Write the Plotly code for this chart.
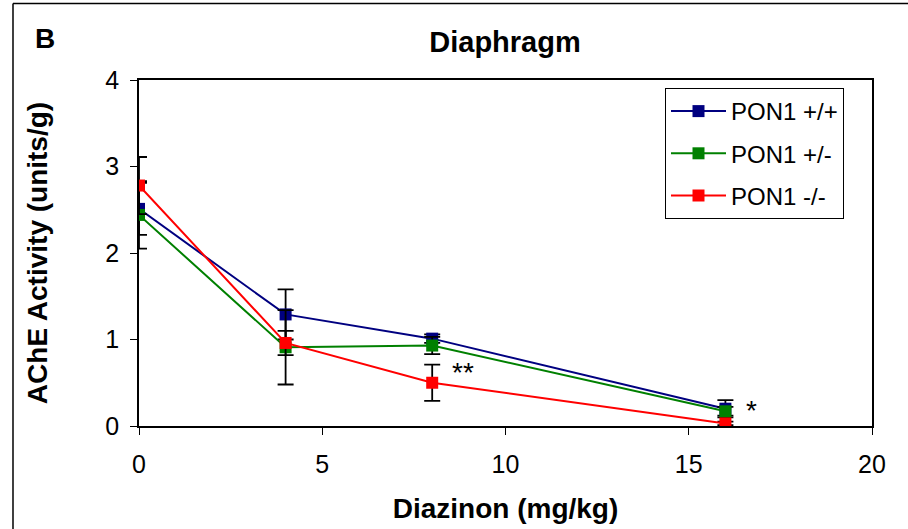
import plotly.graph_objects as go

# Diazinon dose (mg/kg)
dose = [0, 4, 8, 16]

# AChE activity (units/g) and error per genotype
pon_pp = [2.51, 1.29, 1.01, 0.20]
pon_pp_err = [0.30, 0.29, 0.05, 0.10]
pon_pm = [2.44, 0.91, 0.93, 0.17]
pon_pm_err = [0.39, 0.43, 0.10, 0.05]
pon_mm = [2.78, 0.96, 0.50, 0.03]
pon_mm_err = [0.33, 0.14, 0.21, 0.02]

series_names = ["PON1 +/+", "PON1 +/-", "PON1 -/-"]
series_colors = ["#000080", "#008000", "#FF0000"]

# significance markers
sig_text = ["**", "*"]
sig_x = [8.85, 16.7]
sig_y = [0.62, 0.18]

FONT = "Liberation Sans, Arial, sans-serif"

fig = go.Figure()
for i, (name, vals, errs, col) in enumerate(zip(
        series_names, [pon_pp, pon_pm, pon_mm],
        [pon_pp_err, pon_pm_err, pon_mm_err], series_colors)):
    fig.add_trace(go.Scatter(
        x=dose, y=vals, name=name, mode="lines+markers",
        legendgroup=f"g{i}",
        line=dict(color=col, width=2),
        marker=dict(symbol="square", size=12, color=col),
        error_y=dict(type="data", array=errs, visible=True,
                     color="black", thickness=1.8, width=8),
    ))

for t, x, y in zip(sig_text, sig_x, sig_y):
    fig.add_annotation(x=x, y=y, xref="x", yref="y", text=t, showarrow=False,
                       font=dict(family=FONT, size=28, color="black"))

# panel letter
fig.add_annotation(x=(45 - 139) / 733, y=(426 - 38) / 346, xref="paper", yref="paper",
                   xanchor="center", yanchor="middle", text="<b>B</b>",
                   showarrow=False, font=dict(family=FONT, size=28, color="black"))

# outer panel frame (left and top edges)
fig.add_shape(type="line", xref="paper", yref="paper", x0=-0.1719, x1=-0.1719,
              y0=-0.35, y1=1.2209, line=dict(color="black", width=1.5))
fig.add_shape(type="line", xref="paper", yref="paper", x0=-0.1719, x1=1.2,
              y0=1.2209, y1=1.2209, line=dict(color="black", width=1.5))

axis_common = dict(
    showline=True, linecolor="black", linewidth=1.5, mirror=True,
    ticks="outside", ticklen=7, tickcolor="black", tickwidth=1,
    showgrid=False, zeroline=False, automargin=False,
    tickfont=dict(family=FONT, size=25, color="black"),
)

fig.update_layout(
    width=908, height=529,
    margin=dict(l=139, r=36, t=80, b=103),
    paper_bgcolor="white", plot_bgcolor="white",
    title=dict(text="<b>Diaphragm</b>", x=505 / 908, xanchor="center",
               y=1 - 42 / 529, yanchor="middle",
               font=dict(family=FONT, size=29, color="black")),
    xaxis=dict(range=[0, 20], dtick=5, ticklabelstandoff=8,
               title=dict(text="<b>Diazinon (mg/kg)</b>", standoff=22,
                          font=dict(family=FONT, size=28, color="black")),
               **axis_common),
    yaxis=dict(range=[0, 4], dtick=1, ticklabelstandoff=6,
               title=dict(text="<b>AChE Activity (units/g)</b>", standoff=50,
                          font=dict(family=FONT, size=28, color="black")),
               **axis_common),
    legend=dict(x=(665 - 139) / 733, y=(426 - 88) / 346, xanchor="left", yanchor="top",
                bordercolor="black", borderwidth=1, bgcolor="white",
                tracegroupgap=8, itemwidth=55,
                font=dict(family=FONT, size=24, color="black")),
    showlegend=True,
)

fig.write_html("out.html")
